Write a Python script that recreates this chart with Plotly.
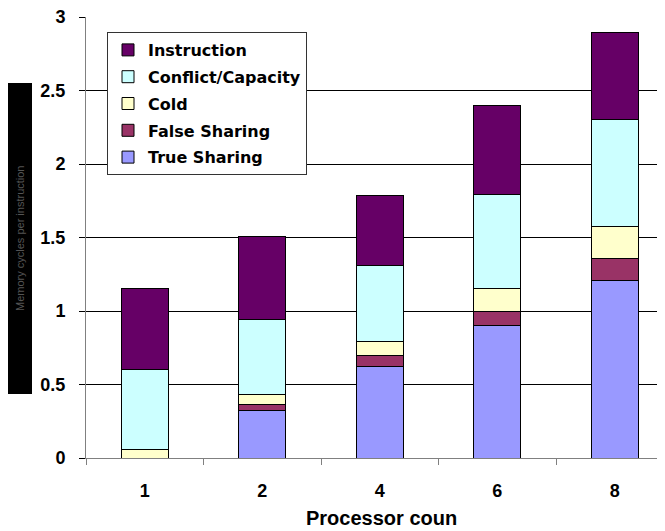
import plotly.graph_objects as go

categories = ["1", "2", "4", "6", "8"]
true_sharing = [0.0, 0.325, 0.625, 0.90, 1.21]
false_sharing = [0.0, 0.04, 0.07, 0.10, 0.15]
cold = [0.055, 0.065, 0.095, 0.15, 0.215]
conflict_capacity = [0.545, 0.51, 0.52, 0.64, 0.725]
instruction = [0.55, 0.57, 0.475, 0.61, 0.595]
y_ticks = [0, 0.5, 1, 1.5, 2, 2.5, 3]
y_tick_labels = ["0", "0.5", "1", "1.5", "2", "2.5", "3"]

series = [
    ("True Sharing", true_sharing, "#9999FF", 5),
    ("False Sharing", false_sharing, "#993366", 4),
    ("Cold", cold, "#FFFFCC", 3),
    ("Conflict/Capacity", conflict_capacity, "#CCFFFF", 2),
    ("Instruction", instruction, "#660066", 1),
]

FONT = "Arial, Liberation Sans, sans-serif"
LFONT = "DejaVu Sans, sans-serif"

# figure is placed 8px in from the page corner (browser body margin)
W, H = 657, 523
ML, MT, MB = 78, 9, 73
PW = W - ML            # plot width in px
PH = H - MT - MB       # plot height in px

fig = go.Figure()
for name, vals, color, rank in series:
    fig.add_trace(go.Bar(
        x=categories, y=vals, name=name, legendgroup=name, legendrank=rank,
        marker=dict(color=color, line=dict(color="#000000", width=1)),
    ))

fig.update_layout(
    width=W, height=H,
    margin=dict(l=ML, r=0, t=MT, b=MB, autoexpand=False),
    barmode="stack", bargap=0.604,
    plot_bgcolor="white", paper_bgcolor="white",
    font=dict(family=FONT, color="black", size=16, weight="bold"),
    showlegend=True,
    legend=dict(
        x=(99 - ML) / PW, y=(PH + MT - 24) / PH,
        xanchor="left", yanchor="top",
        traceorder="grouped", tracegroupgap=3,
        bgcolor="white", bordercolor="#333333", borderwidth=1,
        font=dict(family=LFONT, size=16, weight="bold", color="black"),
        itemwidth=30,
    ),
    xaxis=dict(
        type="category", range=[-0.5, -0.5 + PW / 117.5],
        showline=True, linecolor="#808080", linewidth=1,
        ticks="outside", tickson="boundaries", ticklen=6, tickcolor="#808080",
        showgrid=False,
        tickfont=dict(family=FONT, size=18, weight="bold"),
        ticklabelstandoff=16,
    ),
    yaxis=dict(
        range=[0, 3], tickvals=y_ticks, ticktext=y_tick_labels,
        showline=True, linecolor="#808080", linewidth=1,
        ticks="outside", ticklen=6, tickcolor="#000000",
        showgrid=True, gridcolor="#000000", gridwidth=1,
        zeroline=False,
        tickfont=dict(family=FONT, size=18, weight="bold"),
        ticklabelstandoff=10, ticklabeloverflow="allow",
    ),
    shapes=[dict(
        type="rect", xref="paper", yref="paper",
        x0=(0 - ML) / PW, x1=(24 - ML) / PW,
        y0=(PH + MT - 386) / PH, y1=(PH + MT - 75) / PH,
        fillcolor="#000000", line=dict(width=0),
    )],
    annotations=[
        dict(text="Processor coun", xref="paper", yref="paper",
             x=(373 - ML) / PW, y=(PH + MT - 510) / PH,
             xanchor="center", yanchor="middle",
             showarrow=False, font=dict(family=FONT, size=20, weight="bold")),
        dict(text="Memory cycles per instruction", xref="paper", yref="paper",
             x=(12 - ML) / PW, y=(PH + MT - 230) / PH,
             xanchor="center", yanchor="middle",
             textangle=-90, showarrow=False,
             font=dict(family=FONT, size=11, color="#555555", weight="normal")),
    ],
)

fig.write_html("out.html")
